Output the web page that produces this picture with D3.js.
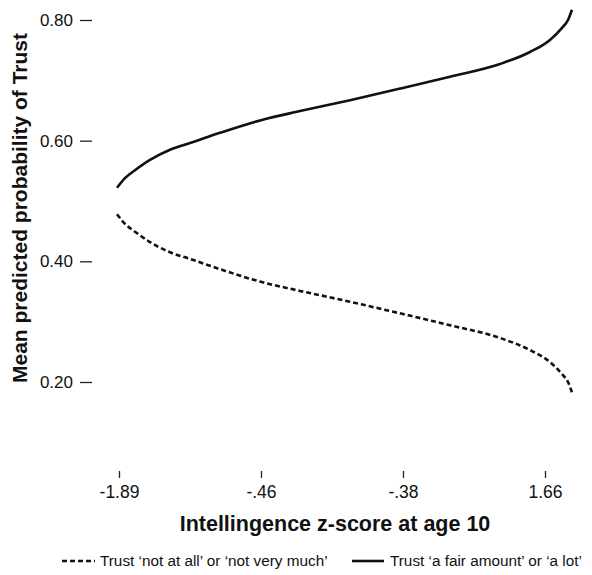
<!DOCTYPE html>
<html><head><meta charset="utf-8">
<script src="https://cdn.jsdelivr.net/npm/d3@7"></script>
<style>body{margin:0;background:#fff}svg{display:block}text{font-family:"Liberation Sans",Arial,Helvetica,sans-serif;fill:#111}</style>
</head><body>
<script>
// Tick positions (evenly spaced on the axis) and their labels
const xTickPos = [0, 1, 2, 3];
const xTickLabels = ["-1.89", "-.46", "-.38", "1.66"];
const yTicks = [0.2, 0.4, 0.6, 0.8];
// Curve positions along the x axis (axis units)
const xPos = [-0.014, 0.042, 0.113, 0.218, 0.359, 0.5, 0.711, 1.0, 1.275, 1.627, 1.993, 2.331, 2.683, 2.894, 3.035, 3.12, 3.162, 3.19];
// Trust 'a fair amount' or 'a lot'
const trustHigh = [0.522, 0.538, 0.551, 0.568, 0.585, 0.596, 0.613, 0.634, 0.649, 0.667, 0.687, 0.706, 0.727, 0.747, 0.767, 0.787, 0.800, 0.817];
// Trust 'not at all' or 'not very much'
const trustLow = [0.478, 0.462, 0.449, 0.432, 0.415, 0.404, 0.387, 0.366, 0.351, 0.333, 0.313, 0.294, 0.273, 0.253, 0.233, 0.213, 0.200, 0.183];
const seriesNames = ["Trust \u2018not at all\u2019 or \u2018not very much\u2019", "Trust \u2018a fair amount\u2019 or \u2018a lot\u2019"];

const W = 592, H = 575;
const svg = d3.select("body").append("svg").attr("width", W).attr("height", H);
const x = d3.scaleLinear().domain([0, 3]).range([119, 545]);
const y = d3.scaleLinear().domain([0.2, 0.8]).range([382, 20]);

// y axis: labels with short dash ticks to their right
const yAxis = d3.axisLeft(y).tickValues(yTicks).tickFormat(d3.format(".2f")).tickSize(12).tickPadding(7);
const gy = svg.append("g").attr("transform", "translate(92,0)").call(yAxis);
gy.select(".domain").remove();
gy.selectAll("line").attr("stroke", "#222").attr("stroke-width", 1.3);
gy.selectAll("text").style("font-size", "17px").attr("fill", "#111");

// x axis
const xAxis = d3.axisBottom(x).tickValues(xTickPos).tickFormat((d, i) => xTickLabels[i]).tickSize(7).tickPadding(8);
const gx = svg.append("g").attr("transform", "translate(0,471)").call(xAxis);
gx.select(".domain").remove();
gx.selectAll("line").attr("stroke", "#222").attr("stroke-width", 1.3);
gx.selectAll("text").style("font-size", "17.5px").attr("fill", "#111");

// lines
const lineGen = d3.line().x((d, i) => x(xPos[i])).y(d => y(d)).curve(d3.curveMonotoneX);
svg.append("path").datum(trustHigh).attr("d", lineGen).attr("fill", "none").attr("stroke", "#111").attr("stroke-width", 2.6);
svg.append("path").datum(trustLow).attr("d", lineGen).attr("fill", "none").attr("stroke", "#111").attr("stroke-width", 2.6).attr("stroke-dasharray", "5,3");

// titles
svg.append("text").attr("transform", "translate(27,208) rotate(-90)").attr("text-anchor", "middle")
  .style("font-size", "21px").style("font-weight", "bold").text("Mean predicted probability of Trust");
svg.append("text").attr("x", 335).attr("y", 531).attr("text-anchor", "middle")
  .style("font-size", "21.5px").style("font-weight", "bold").text("Intellingence z-score at age 10");

// legend
const leg = svg.append("g");
leg.append("line").attr("x1", 62).attr("x2", 95).attr("y1", 561).attr("y2", 561).attr("stroke", "#111").attr("stroke-width", 2.6).attr("stroke-dasharray", "5,3");
leg.append("text").attr("x", 100).attr("y", 566).style("font-size", "15.3px").text(seriesNames[0]);
leg.append("line").attr("x1", 352).attr("x2", 384).attr("y1", 561).attr("y2", 561).attr("stroke", "#111").attr("stroke-width", 2.6);
leg.append("text").attr("x", 390).attr("y", 566).style("font-size", "15.3px").text(seriesNames[1]);
</script>
</body></html>
